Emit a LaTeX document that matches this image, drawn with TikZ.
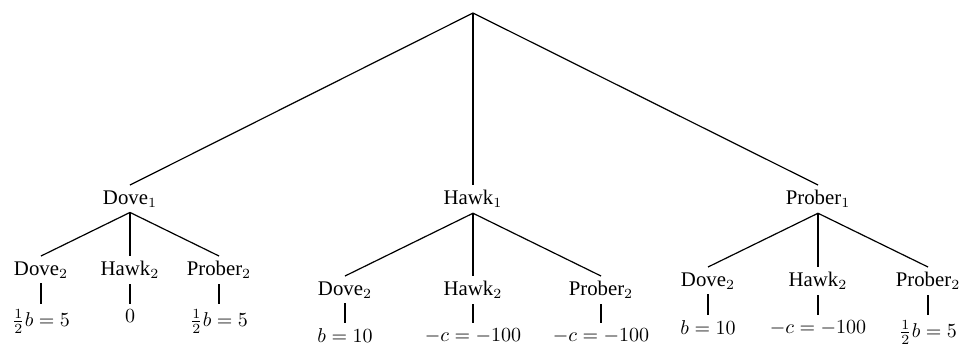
\documentclass[tikz,border=0pt]{standalone}
\usepackage{amsmath}
\usepackage[no-math]{fontspec}
\setmainfont{Liberation Serif}
\usepackage{tikz}
\tikzset{
  gnode/.style={anchor=north, inner sep=2.5pt, font=\fontsize{10.4}{12.5}\selectfont},
  gedge/.style={draw=black, line width=0.6pt}
}

\begin{document}
\begin{tikzpicture}[x=0.5pt, y=-0.5pt]
  \useasboundingbox (0,0) rectangle (963,345);
  \coordinate (root) at (473,13);
  \node[gnode] (d1) at (130,185) {Dove$_1$};
  \node[gnode] (h1) at (473,185) {Hawk$_1$};
  \node[gnode] (p1) at (818,185) {Prober$_1$};
  \foreach \p in {d1,h1,p1}{
    \draw[gedge] (root) -- (\p.north);
  }
  % second move, one row for each first move
  \foreach \p/\x/\y/\s in {d1/130/256/89, h1/473/276/128, p1/818/267/110}{
    \node[gnode] (\p-d) at (\x-\s,\y) {Dove$_2$};
    \node[gnode] (\p-h) at (\x,\y) {Hawk$_2$};
    \node[gnode] (\p-p) at (\x+\s,\y) {Prober$_2$};
    \foreach \c in {d,h,p}{
      \draw[gedge] (\p.south) -- (\p-\c.north);
    }
  }
  % payoffs
  \node[gnode] (d1-d-v) at (41,304) {$\frac{1}{2}b=5$};
  \node[gnode] (d1-h-v) at (130,304) {$0$};
  \node[gnode] (d1-p-v) at (219,304) {$\frac{1}{2}b=5$};
  \node[gnode] (h1-d-v) at (345,323) {$b=10$};
  \node[gnode] (h1-h-v) at (473,323) {$-c=-100$};
  \node[gnode] (h1-p-v) at (601,323) {$-c=-100$};
  \node[gnode] (p1-d-v) at (708,315) {$b=10$};
  \node[gnode] (p1-h-v) at (818,315) {$-c=-100$};
  \node[gnode] (p1-p-v) at (928,315) {$\frac{1}{2}b=5$};
  \foreach \p in {d1,h1,p1}{
    \foreach \c in {d,h,p}{
      \draw[gedge] (\p-\c.south) -- (\p-\c-v.north);
    }
  }
\end{tikzpicture}
\end{document}
